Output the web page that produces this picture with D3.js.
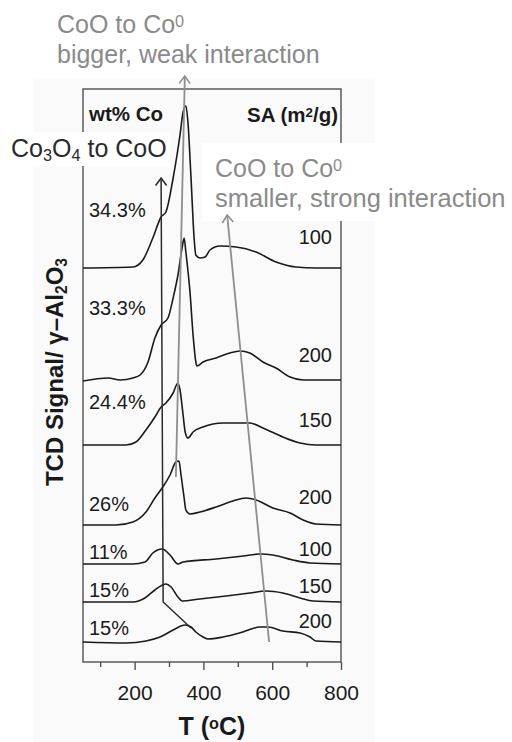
<!DOCTYPE html>
<html>
<head>
<meta charset="utf-8">
<script src="https://cdn.jsdelivr.net/npm/d3@7"></script>
<style>
  html, body { margin: 0; padding: 0; background: #fff; }
  svg { display: block; }
  text { font-family: "Liberation Sans", Arial, sans-serif; }
</style>
</head>
<body>
<svg id="chart" width="512" height="742"></svg>
<script>
// H2-TPR profiles of Co/γ-Al2O3 catalysts: [temperature °C, TCD signal a.u.],
// each relative to its own baseline
const tpr343 = [[50,0],[195,0.01],[224,0.08],[253,0.30],[277,0.51],[291,0.56],[312,0.90],[332,1.33],[341,1.56],[349,1.62],[355,1.46],[364,0.90],[373,0.30],[378,0.13],[390,0.10],[405,0.11],[419,0.18],[448,0.22],[495,0.21],[553,0.16],[611,0.06],[669,0.01],[727,0],[800,0]];
const tpr333 = [[50,-0.01],[123,0.02],[158,0],[195,0.02],[216,0.05],[239,0.18],[259,0.42],[277,0.55],[297,0.62],[312,0.82],[326,1.05],[338,1.32],[344,1.42],[349,1.28],[361,0.88],[370,0.45],[378,0.18],[381,0.14],[399,0.18],[437,0.22],[477,0.27],[506,0.29],[535,0.27],[573,0.18],[611,0.12],[652,0.03],[690,0],[800,0]];
const tpr244 = [[50,0],[175,0],[204,0.03],[233,0.15],[259,0.28],[277,0.38],[291,0.42],[312,0.52],[326,0.62],[332,0.55],[341,0.30],[347,0.13],[355,0.07],[370,0.13],[399,0.18],[457,0.22],[535,0.22],[573,0.17],[631,0.08],[681,0.02],[727,0],[800,0]];
const tpr26  = [[50,0],[146,0],[195,0.03],[233,0.13],[259,0.27],[282,0.38],[303,0.50],[320,0.63],[329,0.64],[335,0.50],[344,0.27],[349,0.15],[361,0.11],[390,0.13],[437,0.18],[486,0.24],[524,0.27],[553,0.25],[602,0.17],[652,0.12],[690,0.05],[727,0.01],[800,0]];
const tpr11  = [[50,0],[195,0],[230,0.02],[253,0.11],[280,0.15],[303,0.09],[326,0],[341,0.02],[437,0.05],[515,0.08],[564,0.10],[602,0.09],[660,0.04],[710,0.01],[800,0]];
const tpr15a = [[50,0],[195,0],[230,0.04],[259,0.12],[291,0.18],[306,0.15],[326,0.05],[338,0.01],[390,0.03],[466,0.06],[535,0.09],[582,0.11],[631,0.09],[681,0.04],[719,0.01],[800,0]];
const tpr15b = [[50,0],[175,-0.01],[233,0.01],[274,0.05],[312,0.12],[347,0.17],[364,0.15],[378,0.10],[399,0.05],[413,0.03],[457,0.05],[515,0.10],[564,0.15],[588,0.15],[631,0.11],[681,0.09],[710,0.05],[727,0.01],[800,0]];

const traces = [tpr343, tpr333, tpr244, tpr26, tpr11, tpr15a, tpr15b];
const baselineOffsets = [3.94, 2.82, 2.17, 1.37, 0.98, 0.60, 0.20];
const coLoadings = ["34.3%", "33.3%", "24.4%", "26%", "11%", "15%", "15%"];
const surfaceAreas = ["100", "200", "150", "200", "100", "150", "200"];

const majorTicks = [200, 400, 600, 800];
const minorTicks = [100, 300, 500, 700];

// Peak-shift guides: [temperature °C, signal a.u.]
const guideCo3O4 = [[364, 0.34], [283, 0.60], [277, 4.84]];
const guideWeak = [[320, 1.85], [346, 5.86]];
const guideStrong = [[591, 0.20], [469, 4.47]];

// ---- layout ----
const plot = { left: 83, right: 341, top: 89, bottom: 662 };
const leftLabelLift = [51, 65, 36, 14, 5, 5, 7];
const rightLabelLift = [24, 18, 18, 21, 8, 9, 14];

const svg = d3.select("#chart");
const x = d3.scaleLinear().domain([50, 800]).range([plot.left, plot.right]);
const y = d3.scaleLinear().domain([0, 5.73]).range([plot.bottom, plot.top]);

// faint panel behind the graph
svg.append("rect").attr("x", 33).attr("y", 78).attr("width", 342).attr("height", 664)
  .attr("fill", "#fafafa");

// arrow heads
const defs = svg.append("defs");
function marker(id, color) {
  defs.append("marker").attr("id", id)
    .attr("viewBox", "-9 -7 11 14").attr("refX", 0).attr("refY", 0)
    .attr("markerUnits", "userSpaceOnUse").attr("markerWidth", 11).attr("markerHeight", 14)
    .attr("orient", "auto")
    .append("path").attr("d", "M-7.5,-5.5 L0,0 L-7.5,5.5")
    .attr("fill", "none").attr("stroke", color).attr("stroke-width", 1.6);
}
marker("headDark", "#2b2b2b");
marker("headGrey", "#8e8e8e");

// frame
svg.append("rect")
  .attr("x", plot.left).attr("y", plot.top)
  .attr("width", plot.right - plot.left).attr("height", plot.bottom - plot.top)
  .attr("fill", "none").attr("stroke", "#505050").attr("stroke-width", 1.4);

// x axis ticks
const axisG = svg.append("g").attr("transform", `translate(0,${plot.bottom})`);
axisG.call(d3.axisBottom(x).tickValues(majorTicks).tickSize(8).tickPadding(15)
  .tickFormat(d3.format("d")));
const minorG = svg.append("g").attr("transform", `translate(0,${plot.bottom})`);
minorG.call(d3.axisBottom(x).tickValues(minorTicks).tickSize(5).tickFormat(""));
[axisG, minorG].forEach(g => {
  g.select(".domain").remove();
  g.selectAll(".tick line").attr("stroke", "#505050").attr("stroke-width", 1.4);
});
axisG.selectAll(".tick text").attr("font-size", 21).attr("fill", "#1a1a1a")
  .attr("font-family", "'Liberation Sans', Arial, sans-serif");

// text helper: parts are [text, "sup"|"sub"|undefined]
function richText(g, px, py, size, parts, opts = {}) {
  const t = g.append("text").attr("x", px).attr("y", py)
    .attr("font-size", size).attr("fill", opts.fill || "#1a1a1a")
    .attr("font-weight", opts.weight || "normal")
    .attr("text-anchor", opts.anchor || "start");
  if (opts.transform) t.attr("transform", opts.transform);
  parts.forEach(([s, kind]) => {
    const sp = t.append("tspan").text(s);
    if (kind === "sup") sp.attr("font-size", size * 0.65).attr("baseline-shift", "40%");
    if (kind === "sub") sp.attr("font-size", size * 0.65).attr("baseline-shift", "-22%");
  });
  return t;
}

// white backing boxes for the in-graph annotations
svg.append("rect").attr("x", 0).attr("y", 132).attr("width", 170).attr("height", 34).attr("fill", "#fff");
svg.append("rect").attr("x", 202).attr("y", 143).attr("width", 310).attr("height", 78).attr("fill", "#fff");

// TPR traces
const line = d3.line()
  .x(d => x(d[0]))
  .y(d => y(d[1]))
  .curve(d3.curveMonotoneX);

traces.forEach((tr, i) => {
  svg.append("path")
    .attr("d", line(tr.map(([t, s]) => [t, s + baselineOffsets[i]])))
    .attr("fill", "none").attr("stroke", "#1a1a1a").attr("stroke-width", 1.6)
    .attr("stroke-linejoin", "round");
});

// guides
const guideLine = d3.line().x(d => x(d[0])).y(d => y(d[1]));
svg.append("path").attr("d", guideLine(guideCo3O4)).attr("fill", "none")
  .attr("stroke", "#2b2b2b").attr("stroke-width", 1.5).attr("marker-end", "url(#headDark)");
svg.append("path").attr("d", guideLine(guideWeak)).attr("fill", "none")
  .attr("stroke", "#8e8e8e").attr("stroke-width", 1.8).attr("marker-end", "url(#headGrey)");
svg.append("path").attr("d", guideLine(guideStrong)).attr("fill", "none")
  .attr("stroke", "#8e8e8e").attr("stroke-width", 1.8).attr("marker-end", "url(#headGrey)");

// trace labels
traces.forEach((tr, i) => {
  const base = y(baselineOffsets[i]);
  svg.append("text").attr("x", plot.left + 6).attr("y", base - leftLabelLift[i])
    .attr("font-size", 20).attr("fill", "#1a1a1a").text(coLoadings[i]);
  svg.append("text").attr("x", plot.right - 9).attr("y", base - rightLabelLift[i])
    .attr("font-size", 20).attr("fill", "#1a1a1a").attr("text-anchor", "end").text(surfaceAreas[i]);
});

// column headers
richText(svg, plot.left + 6, 121, 20.5, [["wt% Co"]], { weight: "bold" });
richText(svg, plot.right - 3, 122, 20.5, [["SA (m"], ["2", "sup"], ["/g)"]], { weight: "bold", anchor: "end" });

// annotations
const grey = "#8a8a8a";
richText(svg, 57, 33, 25, [["CoO to Co"], ["0", "sup"]], { fill: grey });
richText(svg, 57, 63, 25, [["bigger, weak interaction"]], { fill: grey });
richText(svg, 11, 157, 25, [["Co"], ["3", "sub"], ["O"], ["4", "sub"], [" to CoO"]], { fill: "#2a2a2a" });
richText(svg, 215, 177, 25, [["CoO to Co"], ["0", "sup"]], { fill: grey });
richText(svg, 215, 207, 25.5, [["smaller, strong interaction"]], { fill: grey });

// axis titles
richText(svg, (plot.left + plot.right) / 2, 735, 25, [["T ("], ["o", "sup"], ["C)"]],
  { weight: "bold", anchor: "middle" });
richText(svg, 0, 0, 24, [["TCD Signal/ γ–Al"], ["2", "sub"], ["O"], ["3", "sub"]],
  { weight: "bold", anchor: "middle", transform: "translate(63,372) rotate(-90)" });
</script>
</body>
</html>
